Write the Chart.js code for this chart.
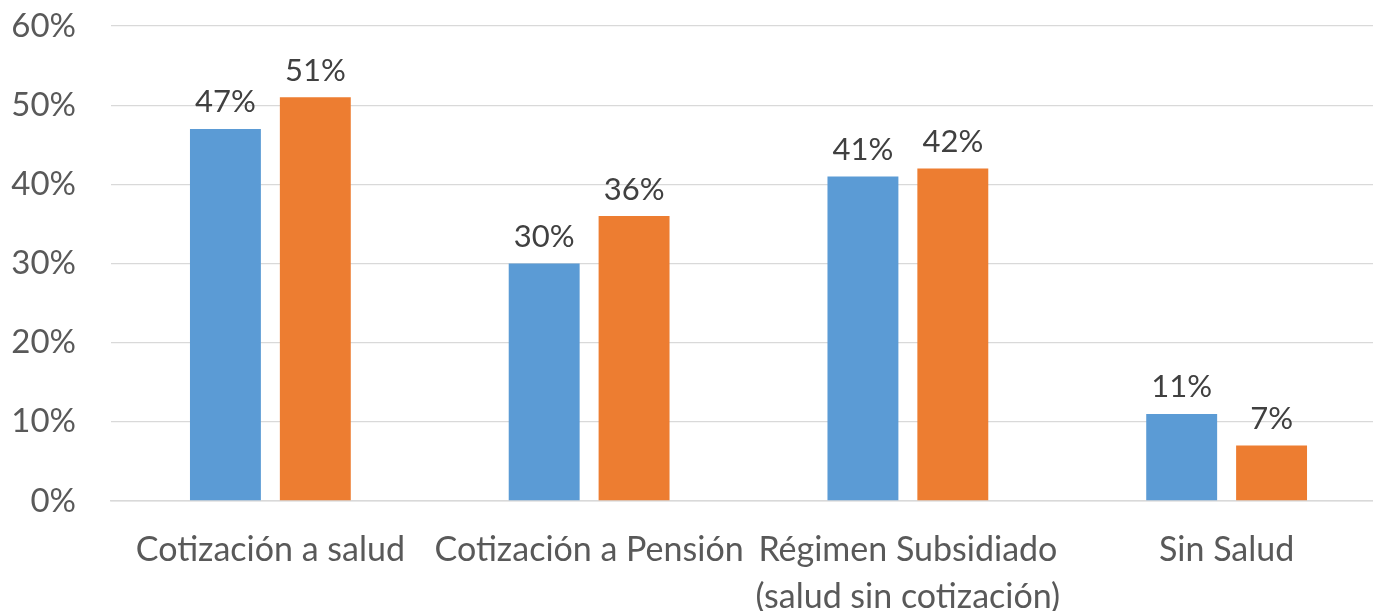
<!DOCTYPE html>
<html>
<head>
<meta charset="utf-8">
<script src="https://cdn.jsdelivr.net/npm/chart.js@4/dist/chart.umd.min.js"></script>
<style>
  html, body { margin: 0; padding: 0; background: #fff; overflow: hidden; }
  #wrap { width: 1373px; height: 611px; overflow: hidden; }
</style>
</head>
<body>
<div id="wrap"><canvas id="chart" width="1390" height="611"></canvas></div>
<script>
const categories = [
  'Cotización a salud',
  'Cotización a Pensión',
  ['Régimen Subsidiado', '(salud sin cotización)'],
  'Sin Salud'
];
const serie1 = [47, 30, 41, 11];
const serie2 = [51, 36, 42, 7];
const yTicks = [0, 10, 20, 30, 40, 50, 60];

// etiquetas encima de cada barra
const barLabels = {
  id: 'barLabels',
  afterDatasetsDraw(chart) {
    const ctx = chart.ctx;
    ctx.save();
    ctx.font = '31px Lato';
    ctx.fillStyle = '#404040';
    ctx.textAlign = 'center';
    ctx.textBaseline = 'bottom';
    chart.data.datasets.forEach((ds, i) => {
      chart.getDatasetMeta(i).data.forEach((bar, j) => {
        ctx.fillText(ds.data[j] + '%', bar.x, bar.y - 11);
      });
    });
    ctx.restore();
  }
};

new Chart(document.getElementById('chart'), {
  type: 'bar',
  data: {
    labels: categories,
    datasets: [
      { label: 'Serie 1', data: serie1, backgroundColor: '#5B9BD5' },
      { label: 'Serie 2', data: serie2, backgroundColor: '#ED7D31' }
    ]
  },
  options: {
    responsive: false,
    animation: false,
    categoryPercentage: 0.564,
    barPercentage: 0.789,
    layout: { padding: { top: 26, right: 4, left: 0, bottom: 0 } },
    plugins: { legend: { display: false }, tooltip: { enabled: false } },
    scales: {
      x: {
        afterFit(axis) { axis.height = 110; axis.paddingTop = 0; axis.paddingRight = 0; axis.paddingLeft = 0; },
        grid: { display: false, drawTicks: false },
        border: { color: '#D9D9D9', width: 1.5 },
        ticks: { color: '#595959', font: { family: 'Lato', size: 34, lineHeight: 1.38 }, padding: 26, maxRotation: 0, autoSkip: false }
      },
      y: {
        min: 0, max: 60,
        afterBuildTicks(axis) { axis.ticks = yTicks.map(v => ({ value: v })); },
        afterFit(axis) { axis.width = 111; axis.paddingTop = 0; },
        grid: { color: '#D9D9D9', lineWidth: 1.3, drawTicks: false },
        border: { display: false },
        ticks: { color: '#595959', font: { family: 'Lato', size: 33 }, padding: 35, callback: v => v + '%' }
      }
    }
  },
  plugins: [barLabels]
});
</script>
</body>
</html>
